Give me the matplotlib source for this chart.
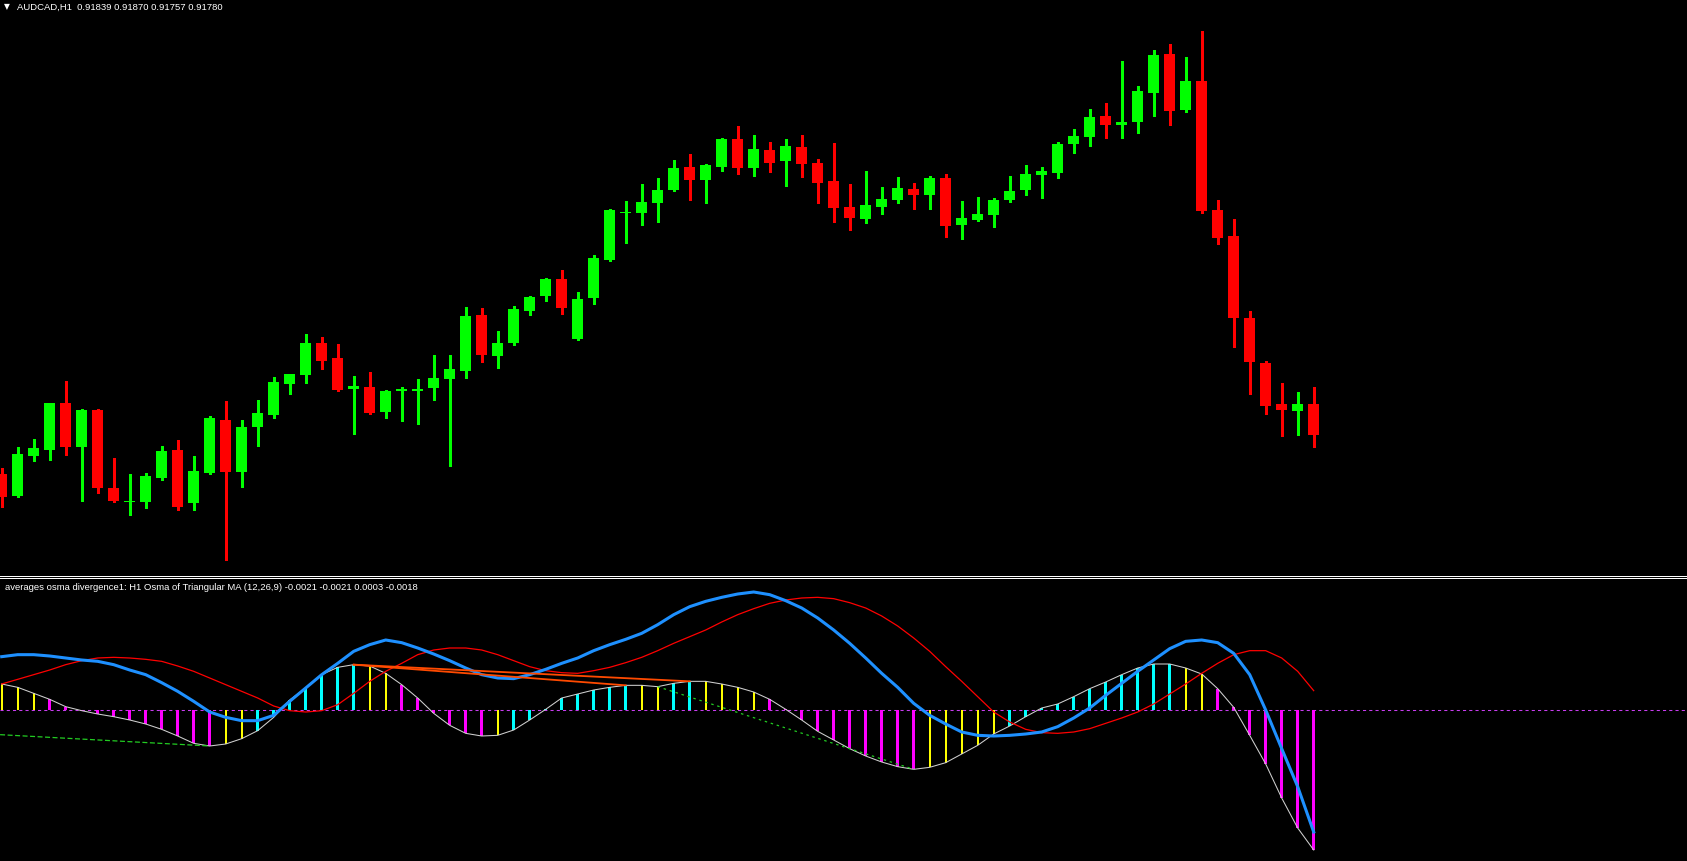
import matplotlib
matplotlib.use("Agg")
import matplotlib.pyplot as plt
import numpy as np

# AUDCAD H1 candles (oldest -> newest)
opens = [0.91705, 0.91664, 0.91740, 0.91751, 0.91840, 0.91757, 0.91827, 0.91679, 0.91652, 0.91652,
         0.91698, 0.91751, 0.91650, 0.91707, 0.91808, 0.91709, 0.91795, 0.91818, 0.91876, 0.91894,
         0.91954, 0.91926, 0.91867, 0.91871, 0.91823, 0.91863, 0.91863, 0.91869, 0.91886, 0.91901,
         0.92008, 0.91930, 0.91954, 0.92015, 0.92044, 0.92076, 0.91962, 0.92040, 0.92112, 0.92201,
         0.92201, 0.92220, 0.92245, 0.92289, 0.92264, 0.92289, 0.92342, 0.92287, 0.92321, 0.92300,
         0.92327, 0.92296, 0.92262, 0.92213, 0.92190, 0.92213, 0.92226, 0.92247, 0.92236, 0.92268,
         0.92179, 0.92188, 0.92198, 0.92226, 0.92245, 0.92274, 0.92277, 0.92332, 0.92346, 0.92386,
         0.92369, 0.92374, 0.92429, 0.92503, 0.92397, 0.92452, 0.92207, 0.92158, 0.92002, 0.91916,
         0.91838, 0.91825, 0.91839]
highs = [0.91717, 0.91757, 0.91772, 0.91840, 0.91882, 0.91829, 0.91828, 0.91736, 0.91705, 0.91707,
         0.91759, 0.91770, 0.91740, 0.91816, 0.91844, 0.91808, 0.91846, 0.91890, 0.91896, 0.91971,
         0.91966, 0.91952, 0.91892, 0.91899, 0.91865, 0.91871, 0.91886, 0.91932, 0.91932, 0.92023,
         0.92021, 0.91977, 0.92025, 0.92043, 0.92078, 0.92093, 0.92051, 0.92122, 0.92209, 0.92224,
         0.92256, 0.92268, 0.92302, 0.92313, 0.92295, 0.92344, 0.92367, 0.92350, 0.92336, 0.92342,
         0.92350, 0.92304, 0.92334, 0.92256, 0.92281, 0.92251, 0.92270, 0.92258, 0.92271, 0.92275,
         0.92224, 0.92232, 0.92229, 0.92272, 0.92293, 0.92289, 0.92336, 0.92361, 0.92399, 0.92410,
         0.92490, 0.92443, 0.92511, 0.92522, 0.92498, 0.92547, 0.92226, 0.92190, 0.92015, 0.91920,
         0.91878, 0.91861, 0.91870]
lows = [0.91643, 0.91662, 0.91730, 0.91732, 0.91741, 0.91654, 0.91669, 0.91653, 0.91628, 0.91641,
        0.91694, 0.91637, 0.91637, 0.91706, 0.91542, 0.91681, 0.91759, 0.91812, 0.91857, 0.91878,
        0.91905, 0.91863, 0.91781, 0.91820, 0.91812, 0.91806, 0.91800, 0.91846, 0.91721, 0.91888,
        0.91918, 0.91907, 0.91950, 0.92008, 0.92034, 0.92009, 0.91960, 0.92028, 0.92111, 0.92144,
        0.92179, 0.92184, 0.92243, 0.92226, 0.92220, 0.92281, 0.92275, 0.92272, 0.92279, 0.92253,
        0.92270, 0.92220, 0.92184, 0.92169, 0.92182, 0.92199, 0.92220, 0.92209, 0.92209, 0.92156,
        0.92152, 0.92186, 0.92175, 0.92222, 0.92236, 0.92230, 0.92268, 0.92315, 0.92329, 0.92344,
        0.92344, 0.92353, 0.92386, 0.92369, 0.92394, 0.92201, 0.92142, 0.91947, 0.91857, 0.91819,
        0.91778, 0.91780, 0.91757]
closes = [0.91662, 0.91743, 0.91755, 0.91840, 0.91757, 0.91827, 0.91679, 0.91654, 0.91654, 0.91702,
          0.91749, 0.91643, 0.91711, 0.91812, 0.91709, 0.91795, 0.91821, 0.91880, 0.91895, 0.91954,
          0.91920, 0.91865, 0.91873, 0.91821, 0.91863, 0.91867, 0.91867, 0.91888, 0.91905, 0.92006,
          0.91932, 0.91954, 0.92019, 0.92042, 0.92076, 0.92021, 0.92038, 0.92116, 0.92207, 0.92203,
          0.92222, 0.92245, 0.92287, 0.92264, 0.92293, 0.92342, 0.92287, 0.92323, 0.92296, 0.92329,
          0.92294, 0.92258, 0.92211, 0.92192, 0.92217, 0.92228, 0.92249, 0.92236, 0.92268, 0.92177,
          0.92192, 0.92199, 0.92226, 0.92243, 0.92275, 0.92281, 0.92332, 0.92348, 0.92384, 0.92369,
          0.92374, 0.92433, 0.92502, 0.92395, 0.92452, 0.92205, 0.92154, 0.92002, 0.91918, 0.91835,
          0.91827, 0.91838, 0.91780]

# OsMA histogram + its colour code (Y yellow, M magenta, C cyan)
osma = [0.00039, 0.00034, 0.00025, 0.00016, 0.00005, -0.00001, -0.00006, -0.00010, -0.00015, -0.00021,
        -0.00029, -0.00039, -0.00050, -0.00054, -0.00051, -0.00043, -0.00031, -0.00011, 0.00015, 0.00033,
        0.00053, 0.00064, 0.00068, 0.00066, 0.00055, 0.00038, 0.00018, -0.00005, -0.00023, -0.00035,
        -0.00039, -0.00038, -0.00030, -0.00015, 0.00001, 0.00018, 0.00024, 0.00030, 0.00034, 0.00037,
        0.00037, 0.00035, 0.00040, 0.00043, 0.00043, 0.00039, 0.00034, 0.00027, 0.00016, 0.00001,
        -0.00015, -0.00032, -0.00045, -0.00058, -0.00069, -0.00078, -0.00085, -0.00089, -0.00086, -0.00079,
        -0.00066, -0.00053, -0.00036, -0.00024, -0.00010, 0.00003, 0.00009, 0.00020, 0.00032, 0.00042,
        0.00053, 0.00063, 0.00069, 0.00069, 0.00063, 0.00054, 0.00032, 0.00004, -0.00038, -0.00081,
        -0.00132, -0.00177, -0.00210]
osma_colors = ("YYY" + "MMMMMMMMMMM" + "YY" + "CCCCCCC" + "YY" + "MMMMMM" + "Y" + "CCCCCCCC"
               + "YY" + "CC" + "YYYY" + "MMMMMMMMMM" + "YYYYY" + "CCCCCCCCCCC" + "YY" + "MMMMMMM")

# moving average lines of the indicator
blue_line = [0.00080, 0.00083, 0.00083, 0.00081, 0.00078, 0.00075, 0.00073, 0.00068, 0.00060, 0.00053,
             0.00041, 0.00028, 0.00013, -0.00003, -0.00011, -0.00016, -0.00016, -0.00008, 0.00013, 0.00033,
             0.00053, 0.00070, 0.00088, 0.00098, 0.00105, 0.00101, 0.00093, 0.00084, 0.00074, 0.00063,
             0.00053, 0.00048, 0.00047, 0.00053, 0.00061, 0.00070, 0.00078, 0.00089, 0.00098, 0.00106,
             0.00115, 0.00128, 0.00143, 0.00155, 0.00163, 0.00169, 0.00174, 0.00177, 0.00173, 0.00164,
             0.00153, 0.00138, 0.00120, 0.00100, 0.00078, 0.00055, 0.00034, 0.00010, -0.00008, -0.00021,
             -0.00033, -0.00038, -0.00039, -0.00038, -0.00036, -0.00033, -0.00025, -0.00012, 0.00003, 0.00022,
             0.00040, 0.00058, 0.00075, 0.00092, 0.00103, 0.00105, 0.00101, 0.00085, 0.00053, 0.00000,
             -0.00058, -0.00115, -0.00183]
red_line = [0.00039, 0.00046, 0.00053, 0.00060, 0.00068, 0.00074, 0.00078, 0.00079, 0.00078, 0.00076,
            0.00073, 0.00066, 0.00058, 0.00048, 0.00038, 0.00028, 0.00018, 0.00006, -0.00001, -0.00003,
            -0.00001, 0.00008, 0.00025, 0.00043, 0.00058, 0.00070, 0.00083, 0.00090, 0.00093, 0.00093,
            0.00090, 0.00083, 0.00074, 0.00065, 0.00059, 0.00056, 0.00055, 0.00059, 0.00064, 0.00071,
            0.00079, 0.00089, 0.00100, 0.00110, 0.00120, 0.00132, 0.00143, 0.00152, 0.00160, 0.00165,
            0.00168, 0.00169, 0.00167, 0.00161, 0.00153, 0.00141, 0.00126, 0.00108, 0.00088, 0.00065,
            0.00043, 0.00020, -0.00003, -0.00018, -0.00029, -0.00034, -0.00035, -0.00033, -0.00028, -0.00020,
            -0.00012, -0.00003, 0.00009, 0.00024, 0.00039, 0.00055, 0.00070, 0.00083, 0.00089, 0.00089,
            0.00078, 0.00058, 0.00029]

# divergence trend lines: (bar, value) pairs
green_div1 = [(-0.1, -0.00037), (13, -0.00054)]
green_div2 = [(41, 0.00035), (57, -0.00089)]
orange_div1 = [(22, 0.00068), (43, 0.00043)]
orange_div2 = [(22, 0.00068), (39, 0.00037)]

W, H = 1687, 861
fig = plt.figure(figsize=(W / 100, H / 100), dpi=100, facecolor="black")

main_bottom = 574
sub_top = 579
ax = fig.add_axes([0, 1 - main_bottom / H, 1, main_bottom / H])
ax2 = fig.add_axes([0, 0, 1, (H - sub_top) / H])
for a in (ax, ax2):
    a.set_facecolor("black")
    a.set_axis_off()
    a.set_xlim(-1.7 / 16, (W - 1.7) / 16)

# price chart
x = np.arange(len(opens))
o = np.array(opens); c = np.array(closes)
up = c >= o
cols = np.where(up, "#00ff00", "#ff0000")
ax.vlines(x, lows, highs, colors=cols, linewidth=0.75, antialiased=False)
body_lo = np.minimum(o, c)
body_h = np.maximum(np.abs(c - o), 0.00003)
ax.bar(x, body_h, bottom=body_lo, width=0.69, color=cols, linewidth=0, antialiased=False)
px = 0.000019
ax.set_ylim(0.92606 - px * main_bottom, 0.92606)

# double separator line between the windows
for row in (575, 577):
    yf = (H - row - 0.5) / H
    fig.add_artist(plt.Line2D([0, 1], [yf, yf], color="white", linewidth=0.72, antialiased=False))

# indicator
vpx = 0.000015
ax2.set_ylim(-(H - 710) * vpx, (710 - sub_top) * vpx)
ax2.axhline(0, color="#c83cf0", linewidth=0.75, linestyle=(0, (3, 3)), zorder=0)
cmap = {"Y": "#ffff00", "M": "#ff00ff", "C": "#00ffff"}
widths = {"Y": 2 / 16, "M": 3 / 16, "C": 3 / 16}
for i, v in enumerate(osma):
    k = osma_colors[i]
    ax2.bar(i, v, width=widths[k], color=cmap[k], linewidth=0, antialiased=False, zorder=1)
ax2.plot(x, osma, color="#d0d0d0", linewidth=0.75, zorder=2)
ax2.plot(x, red_line, color="#ff0000", linewidth=0.9, zorder=3)
ax2.plot(x, blue_line, color="#1e90ff", linewidth=2.2, zorder=4)
for seg, col, ls, lw in [(green_div1, "#22cc22", (0, (4, 2)), 0.9),
                         (green_div2, "#22cc22", (0, (2, 3)), 0.9),
                         (orange_div1, "#ff4a00", "-", 1.3),
                         (orange_div2, "#ff4a00", "-", 1.3)]:
    ax2.plot([p[0] for p in seg], [p[1] for p in seg], color=col, linestyle=ls, linewidth=lw, zorder=5)

# labels
fam = ["Liberation Sans", "DejaVu Sans"]
fig.text(4 / W, 1 - 6.5 / H, "▼", color="white", fontsize=5.5, family=["DejaVu Sans"], va="center")
fig.text(17 / W, 1 - 7 / H, "AUDCAD,H1  0.91839 0.91870 0.91757 0.91780",
         color="white", fontsize=6.8, family=fam, va="center")
fig.text(5 / W, 1 - 587 / H,
         "averages osma divergence1: H1 Osma of Triangular MA (12,26,9) -0.0021 -0.0021 0.0003 -0.0018",
         color="white", fontsize=6.8, family=fam, va="center")

fig.savefig("out.png", dpi=100, facecolor="black")
